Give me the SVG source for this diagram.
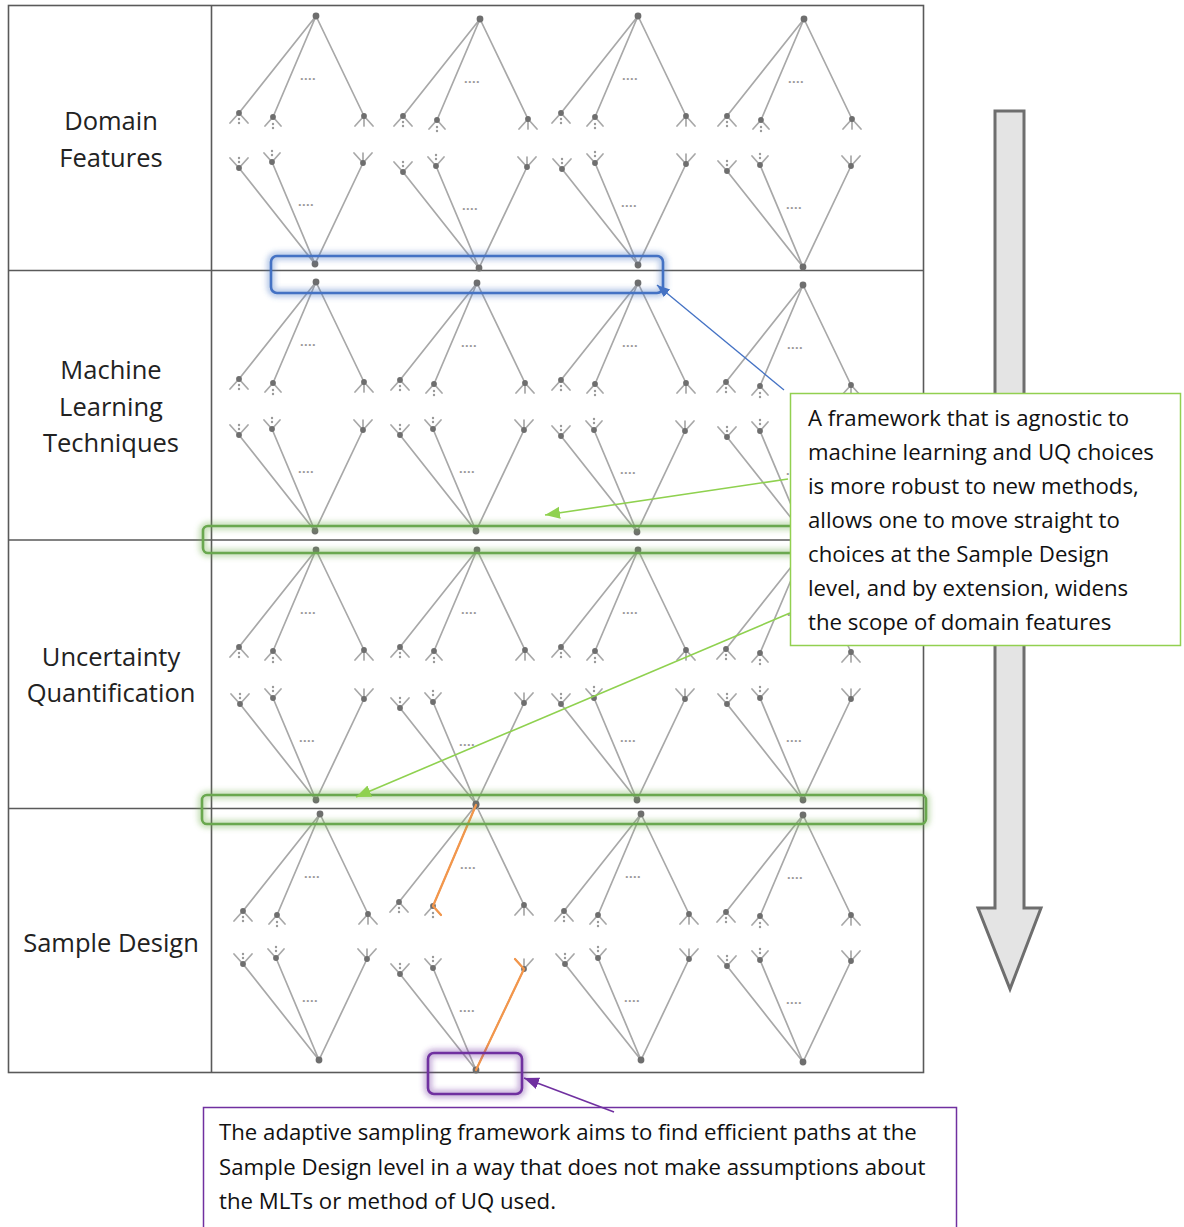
<svg xmlns="http://www.w3.org/2000/svg" xmlns:xlink="http://www.w3.org/1999/xlink" width="1184" height="1227" viewBox="0 0 1184 1227">
  <style>
    .grid { stroke: #5a5a5a; stroke-width: 1.6; fill: none; }
    .edge { stroke: #a8a8a8; stroke-width: 1.7; fill: none; stroke-linecap: round; }
    .nd { fill: #6e6e6e; }
    .pt { fill: #999999; }
    .ell { font-family: "Liberation Sans", Arial, sans-serif; font-size: 13px; font-weight: bold; fill: #9a9a9a; letter-spacing: 0.4px; }
    .lbl { font-family: "Open Sans", "Noto Sans", sans-serif; font-size: 25.5px; fill: #222; text-anchor: middle; }
    .note { font-family: "Open Sans", "Noto Sans", sans-serif; font-size: 22.2px; fill: #111; }
    .halo { fill: none; stroke-width: 9; stroke-opacity: 0.35; filter: url(#soft); }
    .hl { fill: none; stroke-width: 2.6; }
    .path-hl { stroke: #F4964A; stroke-width: 2.2; fill: none; stroke-linecap: round; stroke-linejoin: round; }
  </style>
  <defs>
    <filter id="soft" x="-20%" y="-60%" width="140%" height="220%">
      <feGaussianBlur stdDeviation="2.5"/>
    </filter>
    <marker id="head-blue" markerUnits="userSpaceOnUse" markerWidth="14" markerHeight="12" refX="13" refY="5" orient="auto">
      <path d="M0,0 L13,5 L0,10 z" fill="#4472C4"/>
    </marker>
    <marker id="head-green" markerUnits="userSpaceOnUse" markerWidth="16" markerHeight="14" refX="15" refY="6" orient="auto">
      <path d="M0,0 L15,6 L0,12 z" fill="#8FD14F"/>
    </marker>
    <marker id="head-purple" markerUnits="userSpaceOnUse" markerWidth="16" markerHeight="14" refX="15" refY="6" orient="auto">
      <path d="M0,0 L15,6 L0,12 z" fill="#7030A0"/>
    </marker>

    <!-- upper half of a tree: root node fanning out to three children -->
    <g id="fan">
      <path class="edge" d="M0,0 L-77,97 M0,0 L-43,101 M0,0 L48,100"/>
      <path class="edge" d="M-86,107 L-77,97 L-68,107 M-51,110 L-43,101 L-35,110 M39,110 L48,100 L57,110 M48,100 L48,110"/>
      <circle class="pt" cx="-77" cy="103" r="1.2"/>
      <circle class="pt" cx="-77" cy="107" r="1.2"/>
      <circle class="pt" cx="-43" cy="108" r="1.2"/>
      <circle class="pt" cx="-43" cy="112" r="1.2"/>
      <circle class="nd" cx="0" cy="0" r="3.4"/>
      <circle class="nd" cx="-77" cy="97" r="2.9"/>
      <circle class="nd" cx="-43" cy="101" r="2.9"/>
      <circle class="nd" cx="48" cy="100" r="2.9"/>
      <text class="ell" x="-16" y="64">....</text>
    </g>

    <!-- lower half of a tree: three children converging on a leaf node -->
    <g id="funnel">
      <path class="edge" d="M0,0 L-76,-96 M0,0 L-43,-102 M0,0 L48,-101"/>
      <path class="edge" d="M-85,-106 L-76,-96 L-67,-106 M-51,-111 L-43,-102 L-35,-111 M39,-111 L48,-101 L57,-111 M48,-111 L48,-101"/>
      <circle class="pt" cx="-76" cy="-102" r="1.2"/>
      <circle class="pt" cx="-76" cy="-106" r="1.2"/>
      <circle class="pt" cx="-43" cy="-109" r="1.2"/>
      <circle class="pt" cx="-43" cy="-113" r="1.2"/>
      <circle class="nd" cx="0" cy="0" r="3.4"/>
      <circle class="nd" cx="-76" cy="-96" r="2.9"/>
      <circle class="nd" cx="-43" cy="-102" r="2.9"/>
      <circle class="nd" cx="48" cy="-101" r="2.9"/>
      <text class="ell" x="-17" y="-58">....</text>
    </g>
  </defs>

  <rect width="1184" height="1227" fill="#ffffff"/>

  <!-- table frame -->
  <g id="table">
    <rect class="grid" x="8.5" y="5.5" width="915" height="1067"/>
    <path class="grid" d="M211.5,5.5 V1072.5 M8.5,270.5 H923.5 M8.5,540 H923.5 M8.5,808.5 H923.5"/>
  </g>

  <!-- row labels -->
  <g id="label-domain"><text class="lbl" x="111" y="130">Domain</text><text class="lbl" x="111" y="167">Features</text></g>
  <g id="label-mlt"><text class="lbl" x="111" y="379">Machine</text><text class="lbl" x="111" y="416">Learning</text><text class="lbl" x="111" y="452">Techniques</text></g>
  <g id="label-uq"><text class="lbl" x="111" y="666">Uncertainty</text><text class="lbl" x="111" y="702">Quantification</text></g>
  <g id="label-sample"><text class="lbl" x="111" y="952">Sample Design</text></g>

  <!-- decision trees, one per column in each layer -->
  <g id="trees-domain">
    <use href="#fan" x="316" y="16"/><use href="#funnel" x="315" y="264"/>
    <use href="#fan" x="480" y="19"/><use href="#funnel" x="479" y="268"/>
    <use href="#fan" x="638" y="16"/><use href="#funnel" x="638" y="265"/>
    <use href="#fan" x="804" y="19"/><use href="#funnel" x="803" y="267"/>
  </g>
  <g id="trees-mlt">
    <use href="#fan" x="316" y="282"/><use href="#funnel" x="315" y="531"/>
    <use href="#fan" x="477" y="283"/><use href="#funnel" x="476" y="531"/>
    <use href="#fan" x="638" y="283"/><use href="#funnel" x="637" y="532"/>
    <use href="#fan" x="803" y="285"/><use href="#funnel" x="803" y="533"/>
  </g>
  <g id="trees-uq">
    <use href="#fan" x="316" y="550"/><use href="#funnel" x="316" y="800"/>
    <use href="#fan" x="477" y="550"/><use href="#funnel" x="476" y="804"/>
    <use href="#fan" x="638" y="550"/><use href="#funnel" x="637" y="800"/>
    <use href="#fan" x="803" y="552"/><use href="#funnel" x="803" y="800"/>
  </g>
  <g id="trees-sample">
    <use href="#fan" x="320" y="814"/><use href="#funnel" x="319" y="1060"/>
    <use href="#fan" x="476" y="805"/><use href="#funnel" x="476" y="1070"/>
    <use href="#fan" x="641" y="814"/><use href="#funnel" x="641" y="1060"/>
    <use href="#fan" x="803" y="815"/><use href="#funnel" x="803" y="1062"/>
  </g>

  <!-- efficient path through the sample design tree -->
  <g id="sample-path">
    <path class="path-hl" d="M476,805 L433,906 L441,915"/>
    <path class="path-hl" d="M515,959 L524,969 L476,1070"/>
  </g>

  <!-- highlighted layer boundaries -->
  <g id="hl-domain-mlt">
    <rect class="halo" x="271" y="256" width="392" height="37" rx="6" stroke="#4472C4"/>
    <rect class="hl" x="271" y="256" width="392" height="37" rx="6" stroke="#4472C4"/>
  </g>
  <g id="hl-mlt-uq">
    <rect class="halo" x="203" y="526" width="620" height="27" rx="5" stroke="#70AD47"/>
    <rect class="hl" x="203" y="526" width="620" height="27" rx="5" stroke="#6AA84F"/>
  </g>
  <g id="hl-uq-sample">
    <rect class="halo" x="202" y="795" width="724" height="29" rx="5" stroke="#70AD47"/>
    <rect class="hl" x="202" y="795" width="724" height="29" rx="5" stroke="#6AA84F"/>
  </g>
  <g id="hl-sample-leaf">
    <rect class="halo" x="428" y="1053" width="94" height="41" rx="6" stroke="#7030A0"/>
    <rect class="hl" x="428" y="1053" width="94" height="41" rx="6" stroke="#7030A0" stroke-width="2"/>
  </g>

  <!-- top-down direction arrow -->
  <g id="flow-arrow">
    <path d="M995,111 H1024 V908 H1041 L1010,989 L978,908 H995 Z" fill="#e4e4e4" stroke="#6e6e6e" stroke-width="3" stroke-linejoin="miter"/>
  </g>

  <!-- explanatory notes -->
  <g id="note-agnostic">
    <rect x="790.5" y="393.5" width="390" height="252" fill="#ffffff" stroke="#92D050" stroke-width="1.5"/>
    <text class="note" x="808" y="426">A framework that is agnostic to</text>
    <text class="note" x="808" y="460">machine learning and UQ choices</text>
    <text class="note" x="808" y="494">is more robust to new methods,</text>
    <text class="note" x="808" y="528">allows one to move straight to</text>
    <text class="note" x="808" y="562">choices at the Sample Design</text>
    <text class="note" x="808" y="596">level, and by extension, widens</text>
    <text class="note" x="808" y="630">the scope of domain features</text>
  </g>
  <g id="note-adaptive">
    <rect x="203.5" y="1107.5" width="753" height="130" fill="#ffffff" stroke="#7030A0" stroke-width="1.5"/>
    <text class="note" x="219" y="1140">The adaptive sampling framework aims to find efficient paths at the</text>
    <text class="note" x="219" y="1175">Sample Design level in a way that does not make assumptions about</text>
    <text class="note" x="219" y="1209">the MLTs or method of UQ used.</text>
  </g>

  <!-- connectors from notes to highlighted regions -->
  <g id="connectors" fill="none">
    <line x1="784" y1="390" x2="657" y2="285" stroke="#4472C4" stroke-width="1.3" marker-end="url(#head-blue)"/>
    <line x1="788" y1="479" x2="545" y2="515" stroke="#8FD14F" stroke-width="1.6" marker-end="url(#head-green)"/>
    <line x1="790" y1="613" x2="356" y2="797" stroke="#8FD14F" stroke-width="1.6" marker-end="url(#head-green)"/>
    <line x1="614" y1="1112" x2="524" y2="1078" stroke="#7030A0" stroke-width="1.6" marker-end="url(#head-purple)"/>
  </g>
</svg>
